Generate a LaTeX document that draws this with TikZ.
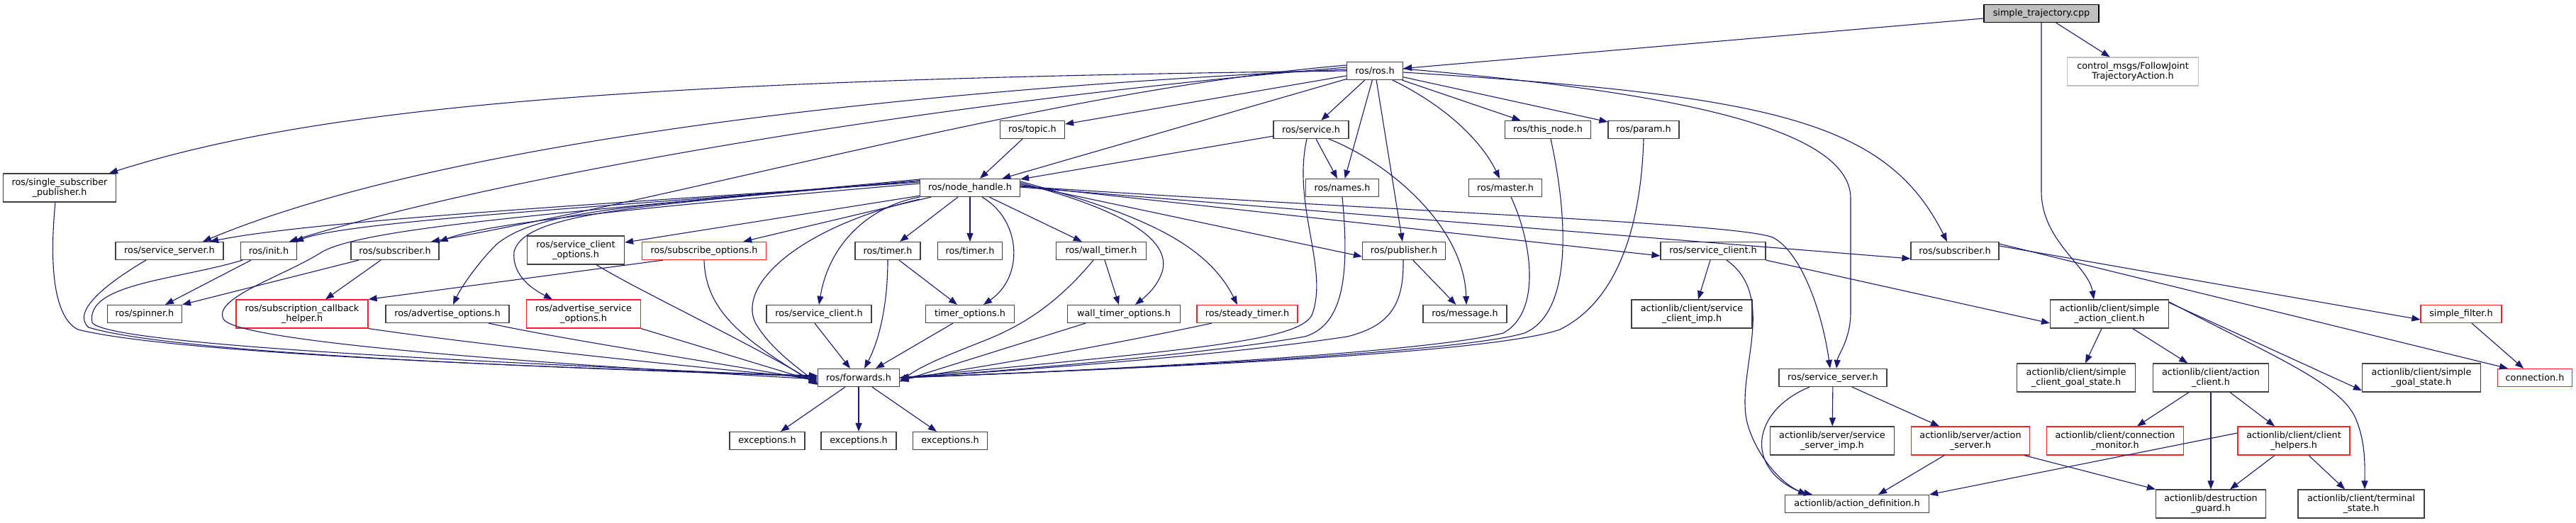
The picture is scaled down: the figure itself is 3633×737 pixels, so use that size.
\documentclass[tikz,border=0pt]{standalone}
\usepackage{fontspec}
\setmainfont{DejaVu Sans}
\usetikzlibrary{arrows.meta}
\definecolor{edgeblue}{HTML}{191970}
\definecolor{bordergrey}{HTML}{404040}
\definecolor{nodered}{HTML}{FF2020}
\definecolor{greyfill}{HTML}{BFBFBF}
\newcommand{\nfs}{\fontsize{12.8}{14.5}\selectfont}
\tikzset{
 nb/.style={draw=bordergrey, line width=1.2pt, fill=white, minimum height=25pt, inner xsep=2pt, inner ysep=1pt, font=\nfs, align=center},
 nb2/.style={nb, minimum height=40pt},
 nbr/.style={nb, draw=nodered},
 nbr2/.style={nb2, draw=nodered},
 e/.style={draw=edgeblue, line width=1.1pt, -{Triangle[length=12pt,width=9pt]}},
}
\begin{document}
\begin{tikzpicture}[x=1pt,y=-1pt]
\useasboundingbox (0,0) rectangle (3633,737);
% nodes
\node[nb, minimum width=162, fill=greyfill, draw=black] (st) at (2879,19) {simple\_trajectory.cpp};
\node[nb2, draw=greyfill, minimum width=185] (ctrl) at (3008,101) {control\_msgs/FollowJoint\\TrajectoryAction.h};
\node[nb, minimum width=79] (rosh) at (1939,100) {ros/ros.h};
\node[nb, minimum width=91] (topic) at (1456,183) {ros/topic.h};
\node[nb, minimum width=106] (service) at (1849,183) {ros/service.h};
\node[nb, minimum width=121] (thisnode) at (2183,183) {ros/this\_node.h};
\node[nb, minimum width=100] (param) at (2318,183) {ros/param.h};
\node[nb2, minimum width=159] (ssp) at (84,265) {ros/single\_subscriber\\\_publisher.h};
\node[nb, minimum width=141] (nh) at (1368,265) {ros/node\_handle.h};
\node[nb, minimum width=103] (names) at (1893,265) {ros/names.h};
\node[nb, minimum width=103] (master) at (2123,265) {ros/master.h};
\node[nb, minimum width=152] (ssrvL) at (239,354) {ros/service\_server.h};
\node[nb, minimum width=79] (init) at (379,354) {ros/init.h};
\node[nb, minimum width=124] (subL) at (557,354) {ros/subscriber.h};
\node[nb2, minimum width=137] (sco) at (812,353) {ros/service\_client\\\_options.h};
\node[nbr, minimum width=175] (subopt) at (993,354) {ros/subscribe\_options.h};
\node[nb, minimum width=92] (timerA) at (1252,354) {ros/timer.h};
\node[nb, minimum width=91] (timerB) at (1368,354) {ros/timer.h};
\node[nb, minimum width=127] (walltimer) at (1553,354) {ros/wall\_timer.h};
\node[nb, minimum width=117] (publisher) at (1980,354) {ros/publisher.h};
\node[nb, minimum width=148] (sclR) at (2416,354) {ros/service\_client.h};
\node[nb, minimum width=124] (subR) at (2757,354) {ros/subscriber.h};
\node[nb, minimum width=105] (spinner) at (204,443) {ros/spinner.h};
\node[nbr2, minimum width=186] (scbh) at (426,443) {ros/subscription\_callback\\\_helper.h};
\node[nb, minimum width=174] (advopt) at (631,443) {ros/advertise\_options.h};
\node[nbr2, minimum width=161] (advsrvopt) at (823,443) {ros/advertise\_service\\\_options.h};
\node[nb, minimum width=148] (sclB) at (1155,443) {ros/service\_client.h};
\node[nb, minimum width=125] (timeropt) at (1368,443) {timer\_options.h};
\node[nb, minimum width=159] (walltimeropt) at (1585,443) {wall\_timer\_options.h};
\node[nbr, minimum width=142] (steadytimer) at (1759,443) {ros/steady\_timer.h};
\node[nb, minimum width=118] (message) at (2066,443) {ros/message.h};
\node[nb2, minimum width=170] (scimp) at (2386,443) {actionlib/client/service\\\_client\_imp.h};
\node[nb2, minimum width=167] (sac) at (2975,443) {actionlib/client/simple\\\_action\_client.h};
\node[nbr, minimum width=114] (sfilter) at (3471,443) {simple\_filter.h};
\node[nb, minimum width=115] (fwd) at (1211,533) {ros/forwards.h};
\node[nb, minimum width=152] (ssrvR) at (2585,533) {ros/service\_server.h};
\node[nb2, minimum width=167] (scgs) at (2928,533) {actionlib/client/simple\\\_client\_goal\_state.h};
\node[nb2, minimum width=163] (aclient) at (3118,533) {actionlib/client/action\\\_client.h};
\node[nb2, minimum width=167] (sgs) at (3415,533) {actionlib/client/simple\\\_goal\_state.h};
\node[nbr, minimum width=105] (conn) at (3575,533) {connection.h};
\node[nb, minimum width=106] (excA) at (1082,622) {exceptions.h};
\node[nb, minimum width=106] (excB) at (1211,622) {exceptions.h};
\node[nb, minimum width=105] (excC) at (1340,622) {exceptions.h};
\node[nb2, minimum width=175] (ssimp) at (2584,622) {actionlib/server/service\\\_server\_imp.h};
\node[nbr2, minimum width=167] (asrv) at (2779,622) {actionlib/server/action\\\_server.h};
\node[nbr2, minimum width=193] (cmon) at (2983,622) {actionlib/client/connection\\\_monitor.h};
\node[nbr2, minimum width=158] (chelp) at (3235,622) {actionlib/client/client\\\_helpers.h};
\node[nb, minimum width=203] (adef) at (2619,711) {actionlib/action\_definition.h};
\node[nb2, minimum width=155] (dguard) at (3118,711) {actionlib/destruction\\\_guard.h};
\node[nb2, minimum width=178] (tstate) at (3330,711) {actionlib/client/terminal\\\_state.h};
% edges
\begin{scope}[e]
\draw (st) -- (rosh);
\draw (st) -- (ctrl);
\draw (st.south) -- (2879,270) .. controls (2879,340) and (2945,375) .. ([xshift=-22]sac.north);
% ros.h
\draw (rosh.west) .. controls (900,112) and (450,150) .. ([xshift=70]ssp.north);
\draw ([yshift=2]rosh.west) .. controls (1200,130) and (600,210) .. ([xshift=47]ssrvL.north);
\draw ([yshift=5]rosh.west) .. controls (1300,145) and (700,250) .. ([xshift=29]init.north);
\draw ([yshift=8]rosh.west) .. controls (1500,125) and (1000,270) .. ([xshift=51]subL.north);
\draw (rosh) -- (topic);
\draw (rosh) -- (nh);
\draw (rosh) -- (service);
\draw (rosh) -- (names);
\draw (rosh) -- (publisher);
\draw ([xshift=25]rosh.south) .. controls (2040,150) and (2090,200) .. ([xshift=-8]master.north);
\draw (rosh) -- (thisnode);
\draw (rosh) -- (param);
\draw ([yshift=3]rosh.east) .. controls (2300,125) and (2610,170) .. (2610,280) -- (2610,440) .. controls (2610,480) and (2592,500) .. ([xshift=5]ssrvR.north);
\draw ([yshift=-2]rosh.east) .. controls (2500,135) and (2660,170) .. ([xshift=-11]subR.north);
\draw (topic) -- (nh);
% service.h
\draw (service) -- (nh);
\draw (service) -- (names);
\draw ([xshift=25]service.south) .. controls (1960,230) and (2065,320) .. ([xshift=2]message.north);
\draw ([xshift=-6]service.south) .. controls (1822,290) and (1875,380) .. (1850,445) .. controls (1830,480) and (1700,492) .. (fwd.east);
\draw (names.south) .. controls (1905,400) and (1890,460) .. (1840,475) .. controls (1700,500) and (1400,525) .. (fwd.east);
\draw ([xshift=-1]publisher.south) .. controls (1980,430) and (1960,460) .. (1900,475) .. controls (1700,505) and (1400,525) .. (fwd.east);
\draw (publisher) -- (message);
\draw ([xshift=8]master.south) .. controls (2160,340) and (2175,440) .. (2120,470) .. controls (2000,500) and (1500,525) .. (fwd.east);
\draw ([xshift=4]thisnode.south) .. controls (2210,300) and (2220,440) .. (2150,470) .. controls (2050,500) and (1500,525) .. (fwd.east);
\draw (param.south) .. controls (2315,300) and (2290,420) .. (2200,465) .. controls (2100,500) and (1600,520) .. (fwd.east);
% node_handle.h
\draw ([yshift=8]nh.west) .. controls (900,285) and (450,310) .. ([xshift=57]ssrvL.north);
\draw ([yshift=10]nh.west) .. controls (900,290) and (500,310) .. ([xshift=37]init.north);
\draw ([yshift=6]nh.west) .. controls (1000,285) and (700,310) .. (subL.north east);
\draw (nh) -- (sco);
\draw (nh) -- (subopt);
\draw ([yshift=10]nh.west) .. controls (900,290) and (760,295) .. (700,345) .. controls (670,375) and (648,410) .. ([xshift=8]advopt.north);
\draw ([yshift=10]nh.west) .. controls (900,290) and (740,300) .. (725,355) .. controls (722,385) and (745,405) .. ([xshift=-44]advsrvopt.north);
\draw (nh.south west) .. controls (1230,290) and (1170,340) .. (sclB.north);
\draw ([yshift=-3]nh.south west) .. controls (1130,320) and (1040,400) .. (1065,455) .. controls (1085,490) and (1120,515) .. ([yshift=-8]fwd.west);
\draw ([yshift=12]nh.west) .. controls (800,300) and (520,320) .. (455,355) .. controls (400,390) and (300,420) .. (315,450) .. controls (330,480) and (700,510) .. ([yshift=-2]fwd.west);
\draw (nh) -- (timerA);
\draw (nh) -- (timerB);
\draw (nh) -- (walltimer);
\draw ([xshift=17]nh.south) .. controls (1440,310) and (1445,390) .. ([xshift=19]timeropt.north);
\draw ([yshift=7]nh.east) .. controls (1560,290) and (1650,330) .. (1640,380) .. controls (1635,400) and (1620,415) .. ([xshift=16]walltimeropt.north);
\draw ([yshift=9]nh.east) .. controls (1600,300) and (1700,340) .. ([xshift=-14]steadytimer.north);
\draw ([yshift=5]nh.east) -- ([yshift=-8]publisher.west);
\draw ([yshift=3]nh.east) -- ([yshift=-7]sclR.west);
\draw ([yshift=1]nh.east) -- ([yshift=-11]subR.west);
\draw ([yshift=2]nh.east) .. controls (2000,300) and (2450,315) .. (2500,335) .. controls (2540,355) and (2570,440) .. ([xshift=-4]ssrvR.north);
% left group
\draw ([xshift=-6]ssp.south) .. controls (68,390) and (80,450) .. (110,465) .. controls (250,500) and (800,520) .. ([yshift=3]fwd.west);
\draw ([xshift=-33]ssrvL.south) .. controls (150,400) and (100,440) .. (125,462) .. controls (250,500) and (800,520) .. ([yshift=2]fwd.west);
\draw ([xshift=-37]init.south) .. controls (250,395) and (120,400) .. (130,455) .. controls (150,490) and (800,515) .. ([yshift=1]fwd.west);
\draw ([xshift=-25]init.south) -- ([xshift=29]spinner.north);
\draw ([xshift=-51]subL.south) -- (spinner.north east);
\draw ([xshift=-20]subL.south) -- ([xshift=33]scbh.north);
\draw ([xshift=-58]subopt.south) -- (scbh.north east);
\draw (subopt.south) .. controls (995,440) and (1050,480) .. ([yshift=-10]fwd.west);
\draw ([xshift=29]sco.south) .. controls (900,410) and (1050,480) .. ([yshift=-9]fwd.west);
\draw ([xshift=58]advopt.south) .. controls (800,480) and (1000,510) .. ([yshift=-4]fwd.west);
\draw (advsrvopt.south east) -- ([yshift=-6]fwd.west);
\draw (scbh.south east) .. controls (700,490) and (1000,520) .. ([yshift=-1]fwd.west);
\draw ([xshift=-6]sclB.south) -- ([xshift=-12]fwd.north);
\draw (timerA.south) .. controls (1252,430) and (1240,480) .. ([xshift=8]fwd.north);
\draw ([xshift=16]timerA.south) -- ([xshift=-18]timeropt.north);
\draw ([xshift=-24]timeropt.south) -- ([xshift=24]fwd.north);
\draw ([xshift=-11]walltimer.south) .. controls (1490,430) and (1440,460) .. (1390,480) .. controls (1340,500) and (1300,515) .. ([yshift=-6]fwd.east);
\draw ([xshift=5]walltimer.south) -- ([xshift=-7]walltimeropt.north);
\draw ([xshift=-54]walltimeropt.south) -- ([yshift=-5]fwd.east);
\draw ([xshift=-50]steadytimer.south) .. controls (1550,490) and (1400,515) .. ([yshift=-3]fwd.east);
\draw (fwd) -- (excA);
\draw (fwd) -- (excB);
\draw (fwd) -- (excC);
% actionlib side
\draw ([xshift=-4]sclR.south) -- ([xshift=9]scimp.north);
\draw ([xshift=19]sclR.south) .. controls (2510,420) and (2445,530) .. (2465,600) .. controls (2480,650) and (2520,690) .. ([xshift=-63]adef.north);
\draw (sclR.south east) -- ([yshift=-13]sac.west);
\draw ([xshift=-33]ssrvR.south) .. controls (2470,580) and (2460,660) .. ([xshift=-71]adef.north);
\draw (ssrvR) -- (ssimp);
\draw ([xshift=27]ssrvR.south) -- ([xshift=-44]asrv.north);
\draw ([xshift=-37]asrv.south) -- ([xshift=30]adef.north);
\draw ([xshift=76]asrv.south) -- (dguard.north west);
\draw ([yshift=11]chelp.west) -- (adef.north east);
\draw ([xshift=-27]chelp.south) -- ([xshift=27]dguard.north);
\draw ([xshift=21]chelp.south) -- ([xshift=-23]tstate.north);
\draw ([xshift=-31]aclient.south) -- ([xshift=31]cmon.north);
\draw (aclient) -- (dguard);
\draw ([xshift=27]aclient.south) -- ([xshift=-27]chelp.north);
\draw ([xshift=-11]sac.south) -- ([xshift=13]scgs.north);
\draw (sac) -- (aclient);
\draw ([yshift=16]sac.east) -- ([yshift=-18]sgs.west);
\draw ([yshift=17]sac.east) .. controls (3200,500) and (3300,540) .. (3322,590) .. controls (3337,625) and (3335,660) .. ([xshift=5]tstate.north);
\draw ([yshift=7]subR.east) -- ([yshift=-8]sfilter.west);
\draw ([yshift=10]subR.east) -- ([xshift=-38]conn.north);
\draw ([xshift=15]sfilter.south) -- ([xshift=-16]conn.north);
\end{scope}
\end{tikzpicture}
\end{document}
